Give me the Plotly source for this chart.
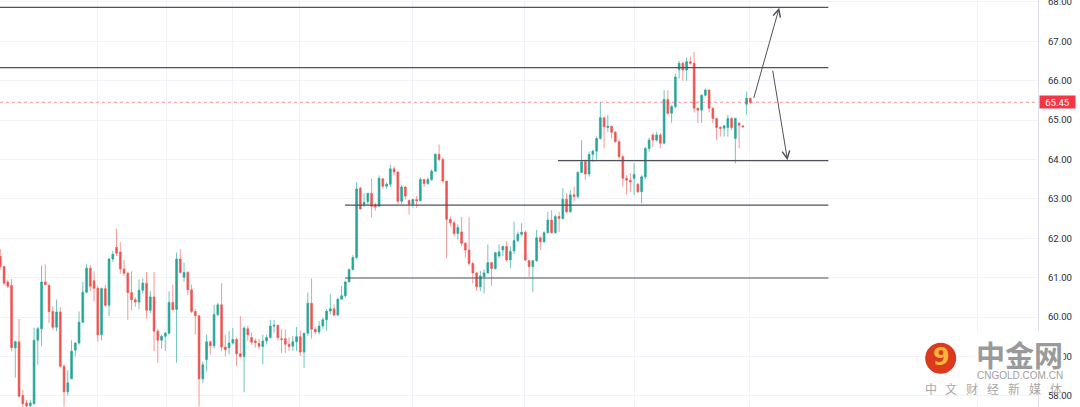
"""Crude oil candles with support / resistance levels, TradingView style."""

import plotly.graph_objects as go

# OHLC, one entry per bar
opens = [
    61.54, 61.28, 60.89, 60.80, 59.22, 59.37, 58.01, 57.82, 57.75, 57.80,
    59.41, 59.70, 60.89, 60.80, 60.14, 59.74, 60.13, 58.75, 58.10, 58.43,
    59.16, 59.34, 59.87, 60.63, 61.24, 60.92, 60.73, 59.55, 60.72, 60.30,
    61.47, 61.77, 61.65, 61.22, 61.11, 60.62, 60.44, 60.38, 60.68, 60.86,
    60.17, 60.51, 59.64, 59.41, 59.51, 59.59, 60.37, 60.19, 61.47, 61.01,
    61.13, 60.69, 60.14, 60.03, 58.43, 58.92, 59.37, 59.27, 60.06, 60.31,
    59.24, 59.22, 59.34, 59.43, 59.07, 59.00, 59.70, 59.48, 59.39, 59.33,
    59.25, 59.39, 59.48, 59.77, 59.79, 59.45, 59.45, 59.31, 59.26, 59.37,
    59.50, 59.11, 59.59, 60.35, 59.69, 59.62, 59.77, 59.93, 60.15, 60.21,
    60.05, 60.45, 60.54, 60.89, 61.20, 61.51, 63.27, 62.85, 62.93, 63.14,
    62.85, 62.81, 63.51, 63.32, 63.37, 63.76, 63.68, 62.94, 63.30, 62.96,
    62.86, 62.98, 62.95, 63.49, 63.39, 63.49, 63.70, 64.13, 64.00, 63.45,
    62.48, 62.39, 62.12, 62.16, 61.87, 61.70, 61.36, 61.12, 60.77, 61.02,
    61.12, 61.38, 61.23, 61.55, 61.70, 61.79, 61.45, 61.68, 61.94, 62.10,
    62.15, 61.43, 61.28, 61.43, 62.01, 61.91, 62.14, 62.46, 62.14, 62.55,
    62.50, 62.99, 62.67, 63.10, 63.06, 63.67, 63.94, 63.63, 64.13, 64.21,
    64.53, 65.06, 64.81, 64.84, 64.69, 64.45, 64.07, 63.52, 63.47, 63.52,
    63.37, 63.18, 63.56, 64.28, 64.62, 64.49, 64.62, 64.41, 65.52, 65.17,
    65.34, 66.28, 66.44, 66.27, 66.48, 66.44, 65.30, 65.25, 65.63, 65.76,
    65.30, 65.04, 64.81, 64.79, 64.81, 65.04, 64.53, 64.92, 64.85, 65.40,
    65.55,
]
highs = [
    61.72, 61.30, 60.95, 60.96, 59.40, 59.95, 58.15, 57.90, 57.90, 59.72,
    59.75, 61.30, 61.33, 60.85, 60.27, 60.44, 60.25, 58.80, 58.65, 59.41,
    59.36, 60.14, 60.89, 61.34, 61.32, 61.16, 60.80, 60.75, 60.82, 61.50,
    61.68, 62.24, 61.90, 61.45, 61.15, 61.16, 60.50, 60.95, 60.98, 61.14,
    60.65, 61.14, 59.70, 59.55, 59.62, 60.65, 60.82, 61.64, 61.72, 61.38,
    61.17, 60.82, 60.20, 60.06, 58.87, 59.55, 59.40, 60.31, 60.36, 60.86,
    59.55, 59.64, 59.72, 59.47, 60.02, 59.76, 59.78, 59.60, 59.46, 59.45,
    59.55, 59.55, 59.93, 59.93, 59.80, 59.69, 59.69, 59.48, 59.52, 59.75,
    59.65, 59.59, 60.62, 60.98, 59.75, 59.90, 59.98, 60.20, 60.58, 60.32,
    60.49, 60.79, 60.92, 61.24, 61.57, 63.42, 63.30, 63.14, 63.14, 63.51,
    62.90, 63.59, 63.52, 63.42, 63.87, 63.83, 63.70, 63.35, 63.32, 62.98,
    63.00, 63.07, 63.55, 63.51, 63.55, 63.75, 64.15, 64.38, 64.05, 63.45,
    62.55, 62.45, 62.35, 62.54, 61.90, 62.54, 61.40, 61.15, 61.17, 61.21,
    61.84, 61.40, 61.65, 61.84, 61.81, 61.92, 61.79, 62.42, 62.17, 62.38,
    62.20, 61.45, 61.45, 62.21, 62.05, 62.18, 62.67, 62.71, 62.60, 62.67,
    63.27, 63.14, 63.22, 63.31, 63.70, 64.49, 64.00, 64.20, 64.24, 64.58,
    65.45, 65.08, 65.13, 64.86, 64.72, 64.50, 64.10, 63.60, 63.65, 63.90,
    63.40, 63.60, 64.32, 64.55, 64.66, 64.70, 64.66, 65.76, 65.76, 65.38,
    66.18, 66.50, 66.48, 66.59, 66.61, 66.73, 65.32, 65.65, 65.80, 65.78,
    65.32, 65.06, 64.85, 64.88, 65.13, 65.08, 65.06, 64.95, 64.87, 65.72,
    65.57,
]
lows = [
    61.20, 60.80, 60.73, 59.13, 58.46, 57.95, 57.70, 57.60, 57.60, 57.78,
    58.79, 59.26, 60.80, 59.85, 59.68, 59.64, 58.72, 57.73, 58.00, 58.43,
    59.00, 59.30, 59.85, 60.60, 60.66, 60.40, 59.38, 59.41, 60.25, 60.02,
    61.40, 61.55, 61.10, 61.05, 59.93, 60.17, 60.26, 60.20, 60.60, 59.96,
    60.10, 59.13, 58.84, 59.20, 59.14, 59.55, 60.15, 58.84, 61.10, 60.89,
    60.56, 60.10, 59.55, 57.73, 58.33, 58.62, 59.05, 59.20, 60.02, 59.13,
    59.00, 59.05, 59.30, 58.76, 58.95, 58.09, 59.40, 59.30, 59.22, 59.18,
    58.80, 59.30, 59.45, 59.60, 59.40, 59.09, 59.09, 59.14, 59.14, 59.14,
    59.01, 58.71, 59.52, 59.45, 59.56, 59.56, 59.70, 59.65, 60.07, 60.03,
    60.03, 60.45, 60.49, 60.89, 61.20, 61.47, 62.73, 62.79, 62.83, 62.53,
    62.70, 62.79, 63.25, 63.25, 63.30, 63.60, 62.86, 62.86, 62.98, 62.60,
    62.77, 62.77, 62.94, 63.30, 63.35, 63.45, 63.68, 63.95, 63.40, 61.49,
    62.30, 62.05, 61.97, 61.80, 61.50, 61.30, 60.85, 60.66, 60.66, 60.60,
    61.10, 60.79, 61.20, 61.50, 61.55, 61.40, 61.24, 61.60, 61.90, 62.05,
    61.41, 61.02, 60.64, 61.40, 61.70, 61.88, 62.12, 62.12, 62.12, 62.16,
    62.48, 62.63, 62.65, 62.93, 63.00, 63.65, 63.48, 63.56, 63.94, 63.99,
    64.50, 64.28, 64.70, 64.53, 64.42, 64.00, 63.31, 63.10, 63.18, 63.10,
    63.14, 62.89, 63.50, 64.20, 64.32, 64.45, 64.28, 64.38, 65.13, 64.93,
    65.30, 66.05, 66.00, 66.00, 66.40, 65.19, 64.92, 64.93, 65.60, 65.19,
    64.92, 64.49, 64.58, 64.58, 64.58, 64.75, 63.90, 64.28, 64.80, 65.13,
    65.40,
]
closes = [
    61.28, 60.86, 60.78, 59.22, 59.37, 57.99, 57.80, 57.74, 57.82, 59.41,
    59.70, 60.89, 60.82, 60.14, 59.74, 60.13, 58.75, 58.10, 58.33, 59.13,
    59.34, 59.87, 60.63, 61.24, 60.78, 60.73, 59.55, 60.72, 60.30, 61.47,
    61.59, 61.62, 61.22, 61.11, 60.62, 60.44, 60.38, 60.68, 60.86, 60.17,
    60.51, 59.64, 59.41, 59.51, 59.59, 60.37, 60.19, 61.47, 61.13, 61.13,
    60.69, 60.14, 60.03, 58.43, 58.79, 59.37, 59.27, 60.06, 60.31, 59.24,
    59.17, 59.34, 59.43, 59.07, 59.00, 59.72, 59.55, 59.36, 59.35, 59.26,
    59.39, 59.48, 59.77, 59.79, 59.48, 59.43, 59.31, 59.25, 59.37, 59.50,
    59.11, 59.59, 60.35, 59.69, 59.62, 59.77, 59.93, 60.15, 60.21, 60.05,
    60.45, 60.54, 60.89, 61.20, 61.51, 63.25, 62.74, 62.91, 63.14, 62.81,
    62.79, 63.52, 63.32, 63.37, 63.76, 63.68, 62.94, 63.30, 63.07, 62.86,
    62.98, 62.95, 63.49, 63.39, 63.49, 63.70, 64.13, 64.00, 63.45, 62.48,
    62.39, 62.12, 62.27, 61.87, 61.70, 61.36, 61.12, 60.77, 61.04, 61.12,
    61.38, 61.23, 61.63, 61.65, 61.79, 61.45, 61.66, 61.94, 62.10, 62.15,
    61.45, 61.28, 61.43, 62.01, 61.91, 62.14, 62.46, 62.14, 62.55, 62.50,
    62.99, 62.67, 63.10, 63.06, 63.67, 63.94, 63.63, 64.13, 64.21, 64.53,
    65.06, 64.83, 64.84, 64.69, 64.45, 64.07, 63.52, 63.47, 63.43, 63.62,
    63.18, 63.56, 64.28, 64.49, 64.49, 64.62, 64.41, 65.52, 65.17, 65.34,
    66.09, 66.44, 66.27, 66.48, 66.44, 65.30, 65.25, 65.63, 65.76, 65.30,
    65.04, 64.81, 64.79, 64.85, 65.04, 64.81, 65.04, 64.87, 64.83, 65.55,
    65.45,
]
bars = list(range(len(closes)))

# hand-drawn levels: price, first bar (they all run to LEVEL_END)
level_prices = [67.86, 66.33, 63.97, 62.84, 60.99]
level_starts = [-0.1, -0.1, 148.7, 91.9, 91.9]
LEVEL_END = 220.8

# arrows: (tail bar, tail price, head bar, head price)
arrows = [(200.8, 65.52, 207.7, 67.85), (205.9, 66.29, 209.9, 63.98)]

# time grid lines (bar positions)
time_grid = [26.05, 44.2, 61.8, 79.9, 110.0, 139.7, 169.0, 199.9, 260.5]

UP, DOWN = "#26a69a", "#ef5350"
GRID = "#f0f3fa"
LINE = "#4f525c"
W, H = 1080, 407
PW = 1038  # plot width in px, the price scale sits to the right


def px(x):
    return x / PW


def py(y):
    return 1 - y / H


def note(x, y, text, size, color, family, **kw):
    fig.add_annotation(xref="paper", yref="paper", x=px(x), y=py(y), text=text,
                       xanchor="center", yanchor="middle", showarrow=False,
                       font=dict(size=size, color=color, family=family), **kw)


fig = go.Figure(go.Candlestick(
    x=bars, open=opens, high=highs, low=lows, close=closes,
    increasing=dict(line=dict(color="rgba(38,166,154,0.65)", width=1), fillcolor=UP),
    decreasing=dict(line=dict(color="rgba(239,83,80,0.6)", width=1), fillcolor=DOWN),
    whiskerwidth=0, hoverinfo="skip", showlegend=False,
))

for price, x0 in zip(level_prices, level_starts):
    fig.add_shape(type="line", xref="x", yref="y", x0=x0, x1=LEVEL_END, y0=price, y1=price,
                  line=dict(color=LINE, width=1.2))

last = closes[-1]
fig.add_shape(type="line", xref="paper", yref="y", x0=0, x1=1, y0=last, y1=last,
              line=dict(color="rgba(242,54,69,0.55)", width=1, dash="dot"))

for tx, ty, hx, hy in arrows:
    fig.add_annotation(x=hx, y=hy, ax=tx, ay=ty, xref="x", yref="y", axref="x", ayref="y",
                       text="", showarrow=True, arrowhead=5, arrowsize=1.5,
                       arrowwidth=1, arrowcolor=LINE)

# last price tag on the scale
fig.add_annotation(xref="paper", yref="y", x=px(1039), y=last, xanchor="left", yanchor="middle",
                   text=f"{last:.2f}", showarrow=False, bgcolor="#f23645",
                   font=dict(color="white", size=9.6, family="Roboto"),
                   width=33, height=10, borderpad=1)

# watermark
fig.add_shape(type="circle", xref="paper", yref="paper",
              x0=px(925.2), x1=px(956.2), y0=py(373.8), y1=py(342.8),
              fillcolor="#dc3a1e", line=dict(width=0))
note(941, 357, "<b>9</b>", 24, "#f7b53a", "DejaVu Sans")
note(1019.5, 354, "<b>中金网</b>", 29, "#9a9a9a", "Noto Sans CJK SC", bgcolor="white", borderpad=0)
note(1019.5, 375.5, "CNGOLD.COM.CN", 10, "#a0a0a0", "Liberation Sans")
for k, ch in enumerate("中文财经新媒体"):
    note(930.5 + 20.9 * k, 388, ch, 12, "#a8a8a8", "Noto Sans CJK SC")

fig.update_xaxes(range=[-0.08, 276.7], rangeslider_visible=False, showticklabels=False,
                 tickvals=time_grid, showgrid=True, gridcolor=GRID, zeroline=False,
                 showline=False, fixedrange=True, automargin=False)
fig.update_yaxes(side="right", range=[57.716, 68.046], dtick=1, tick0=58, tickformat=".2f",
                 showgrid=True, gridcolor=GRID, zeroline=False, showline=True,
                 linecolor="#e0e3eb", linewidth=1, ticks="", ticklabelstandoff=7,
                 ticklabeloverflow="allow", automargin=False,
                 tickfont=dict(size=9.6, color="#2a2e39", family="Roboto"))
fig.update_layout(width=W, height=H, margin=dict(l=0, r=W - PW, t=0, b=0, pad=0),
                  paper_bgcolor="white", plot_bgcolor="white", showlegend=False,
                  font=dict(family="Roboto"))

# the page's default body margin would push the chart off the window
fig.write_html("out.html", config={"displayModeBar": False},
               post_script="document.body.style.margin='0';")
